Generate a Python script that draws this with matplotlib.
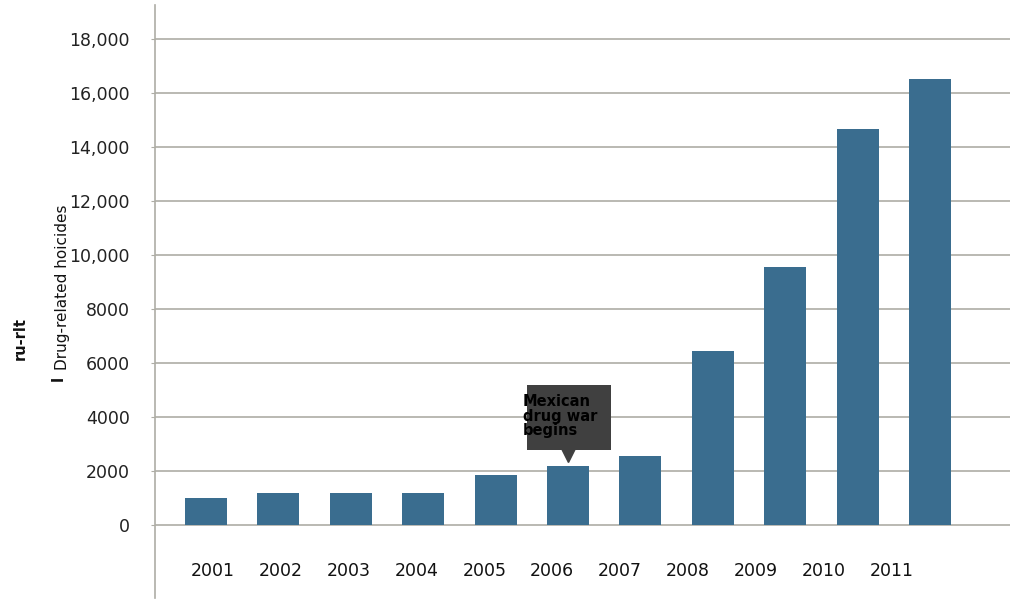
import matplotlib.pyplot as plt
import numpy as np
from matplotlib.patches import Rectangle

# Drug-related homicides per year
years = ["2001", "2002", "2003", "2004", "2005", "2006", "2007", "2008", "2009", "2010", "2011"]
homicides = [1000, 1200, 1200, 1200, 1850, 2200, 2550, 6450, 9550, 14680, 16520]

y_ticks = [0, 2000, 4000, 6000, 8000, 10000, 12000, 14000, 16000, 18000]
y_tick_labels = ["0", "2000", "4000", "6000", "8000", "10,000", "12,000", "14,000", "16,000", "18,000"]

annotation_year = "2006"
annotation_text = "Mexican\ndrug war\nbegins"

bar_color = "#3a6d8f"
grid_color = "#aeada5"
box_color = "#404040"

fig = plt.figure(figsize=(10.15, 5.99), dpi=100)
ax = fig.add_axes([0.1527, 0.0017, 0.8423, 0.99])

x = np.arange(len(years))
ax.bar(x, homicides, width=0.58, color=bar_color, zorder=3)

ax.set_xlim(-0.70, 11.1)
ax.set_ylim(-2700, 19260)

# horizontal gridlines
ax.set_yticks(y_ticks)
ax.set_yticklabels(y_tick_labels, fontsize=12.5, color="#222222")
ax.yaxis.grid(True, color=grid_color, linewidth=1.2, zorder=0)
ax.tick_params(axis="y", length=3, color=grid_color, pad=15)
ax.set_xticks([])

for side in ["top", "right", "bottom"]:
    ax.spines[side].set_visible(False)
ax.spines["left"].set_color(grid_color)
ax.spines["left"].set_linewidth(1.2)

# year labels sit inside the axes, below the zero line
label_x = 0.1 + x * 0.9366
for lx, yr in zip(label_x, years):
    ax.text(lx, -1700, yr, ha="center", va="center", fontsize=12.5, color="#111111")

# callout for the start of the drug war
i = years.index(annotation_year)
ax.add_patch(Rectangle((i - 0.56, 2780), 1.16, 2400, facecolor=box_color,
                       edgecolor="none", zorder=4))
ax.plot([i], [homicides[i] + 380], marker="v", markersize=10, color=box_color, zorder=4)
ax.text(i - 0.62, 4850, annotation_text, ha="left", va="top", fontsize=10.5,
        fontweight="bold", color="black", linespacing=0.95, zorder=5)

# axis title fragments
fig.text(62 / 1015, 1 - 370 / 599, "Drug-related hoicides", rotation=90,
         ha="center", va="bottom", fontsize=11, color="#111111")
fig.text(20 / 1015, 1 - 338 / 599, "ru-rlt", rotation=90, ha="center", va="center",
         fontsize=10.5, fontweight="bold", color="#111111")
fig.text(58 / 1015, 1 - 378 / 599, "l", rotation=90, ha="center", va="center",
         fontsize=11, fontweight="bold", color="#111111")

fig.savefig("out.png", dpi=100)
